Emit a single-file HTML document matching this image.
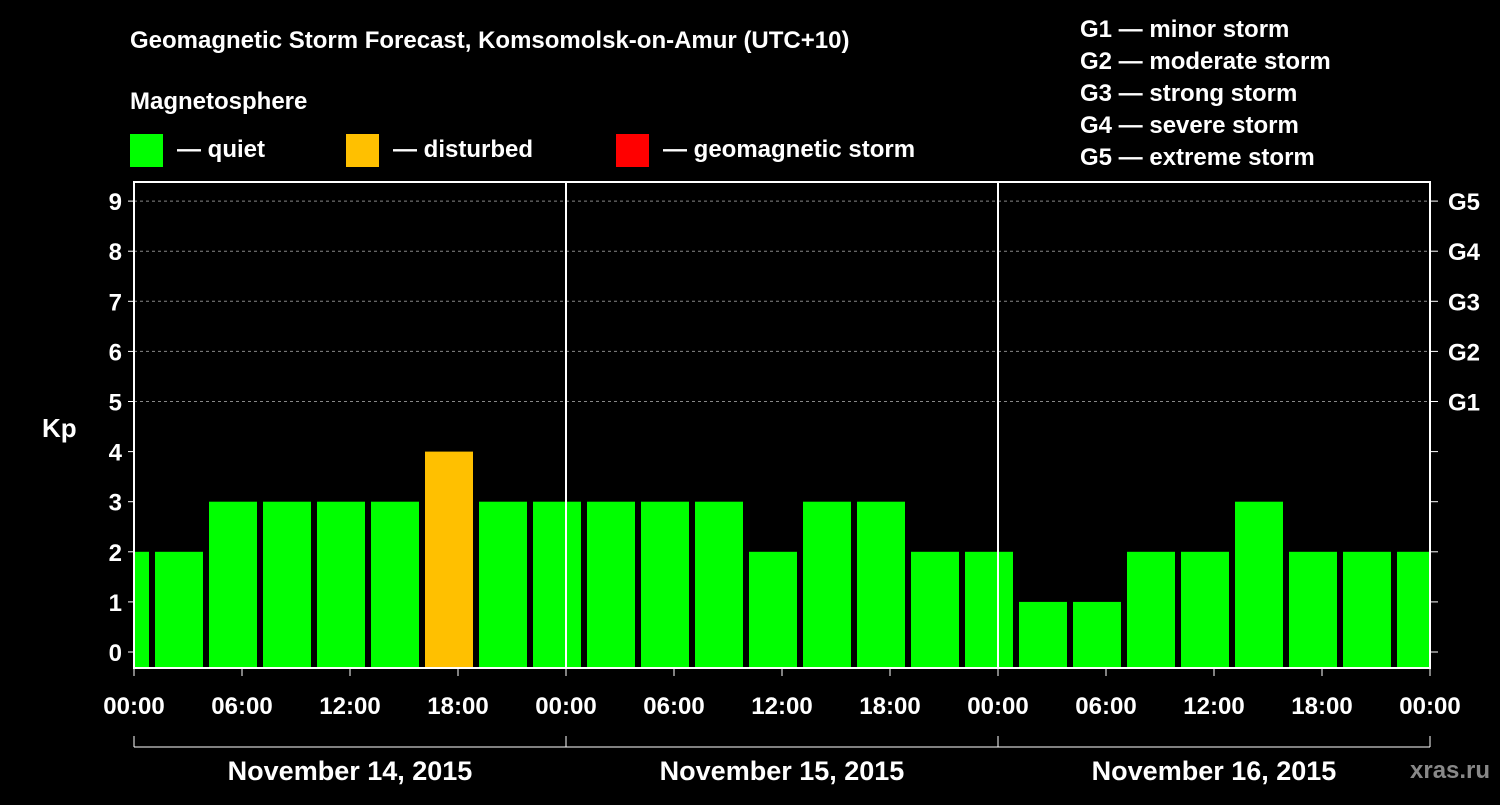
<!DOCTYPE html>
<html><head><meta charset="utf-8"><style>
body{margin:0;background:#000;width:1500px;height:800px;overflow:hidden;font-family:"Liberation Sans",sans-serif}
text{font-family:"Liberation Sans",sans-serif;font-weight:bold;fill:#fff}
</style></head><body>
<svg id="chart" width="1500" height="800">
<text x="130" y="48" font-size="24">Geomagnetic Storm Forecast, Komsomolsk-on-Amur (UTC+10)</text>
<text x="130" y="109" font-size="24">Magnetosphere</text>
<g><rect x="130" y="134" width="33" height="33" fill="#00ff00"/><text x="177" y="157" font-size="24">— quiet</text></g>
<g><rect x="346" y="134" width="33" height="33" fill="#ffc000"/><text x="393" y="157" font-size="24">— disturbed</text></g>
<g><rect x="616" y="134" width="33" height="33" fill="#ff0000"/><text x="663" y="157" font-size="24">— geomagnetic storm</text></g>
<g font-size="24">
<text x="1080" y="37">G1 — minor storm</text><text x="1080" y="69">G2 — moderate storm</text><text x="1080" y="101">G3 — strong storm</text><text x="1080" y="133">G4 — severe storm</text><text x="1080" y="165">G5 — extreme storm</text></g>
<text x="42" y="437" font-size="26">Kp</text>
<text x="1410" y="778" font-size="24" fill="#888" style="fill:#888">xras.ru</text>
<g id="plot"></g>
</svg>
<script>
const kpValues=[2,2,3,3,3,3,4,3,3,3,3,3,2,3,3,2,2,1,1,2,2,3,2,2,2];
const slotStartHours=[-2,1,4,7,10,13,16,19,22,25,28,31,34,37,40,43,46,49,52,55,58,61,64,67,70];
const yTicks=[0,1,2,3,4,5,6,7,8,9];
const gLabels=["","","","","","G1","G2","G3","G4","G5"];
const xTickLabels=["00:00","06:00","12:00","18:00","00:00","06:00","12:00","18:00","00:00","06:00","12:00","18:00","00:00"];
const dayLabels=["November 14, 2015","November 15, 2015","November 16, 2015"];
const L=134,R=1430,T=182,B=668;
const x=h=>L+h*(R-L)/72;
const y=v=>652-v*50.1;
const ns="http://www.w3.org/2000/svg",g=document.getElementById('plot');
function mk(t,a,txt){const e=document.createElementNS(ns,t);for(const k in a)e.setAttribute(k,a[k]);if(txt!==undefined)e.textContent=txt;g.appendChild(e);return e;}
yTicks.forEach((v,i)=>{
 if(v>=5){const l=mk('line',{x1:L,x2:R,y1:y(v),y2:y(v),stroke:'#888','stroke-dasharray':'3,3'});
 
 }
 const t=mk('line',{x1:L-6,x2:L,y1:y(v),y2:y(v),stroke:'#fff'});
 
 
 const t2=mk('line',{x1:R,x2:R+8,y1:y(v),y2:y(v),stroke:'#fff'});
 
 
 const lb=mk('text',{x:L-12,y:y(v)+9,'text-anchor':'end','font-size':24},String(v));
 
 
 if(gLabels[i]){const gl=mk('text',{x:R+18,y:y(v)+9,'font-size':24},gLabels[i]);
 
 }
});
kpValues.forEach((v,i)=>{
 let x0=x(slotStartHours[i])+3,x1=x(slotStartHours[i]+3)-3;
 x0=Math.max(x0,L+1);x1=Math.min(x1,R);
 const b=mk('rect',{x:x0,y:y(v),width:x1-x0,height:B-y(v),fill:v>=5?'#ff0000':v>=4?'#ffc000':'#00ff00'});
 
 
});
[24,48].forEach(h=>{const l=mk('line',{x1:x(h),x2:x(h),y1:T,y2:B,stroke:'#fff','stroke-width':2});
 
 });
const fr=mk('rect',{x:L,y:T,width:R-L,height:B-T,fill:'none',stroke:'#fff','stroke-width':2});


xTickLabels.forEach((s,i)=>{
 const t=mk('line',{x1:x(i*6),x2:x(i*6),y1:B,y2:B+8,stroke:'#fff'});
 
 
 const lb=mk('text',{x:x(i*6),y:714,'text-anchor':'middle','font-size':24},s);
 
 
});
const br=mk('line',{x1:L,x2:R,y1:747,y2:747,stroke:'#fff'});


[0,24,48,72].forEach(h=>{const l=mk('line',{x1:x(h),x2:x(h),y1:736,y2:747,stroke:'#fff'});
 
 });
dayLabels.forEach((s,i)=>{const t=mk('text',{x:x(i*24+12),y:780,'text-anchor':'middle','font-size':27},s);
 
 });
</script>
</body></html>
